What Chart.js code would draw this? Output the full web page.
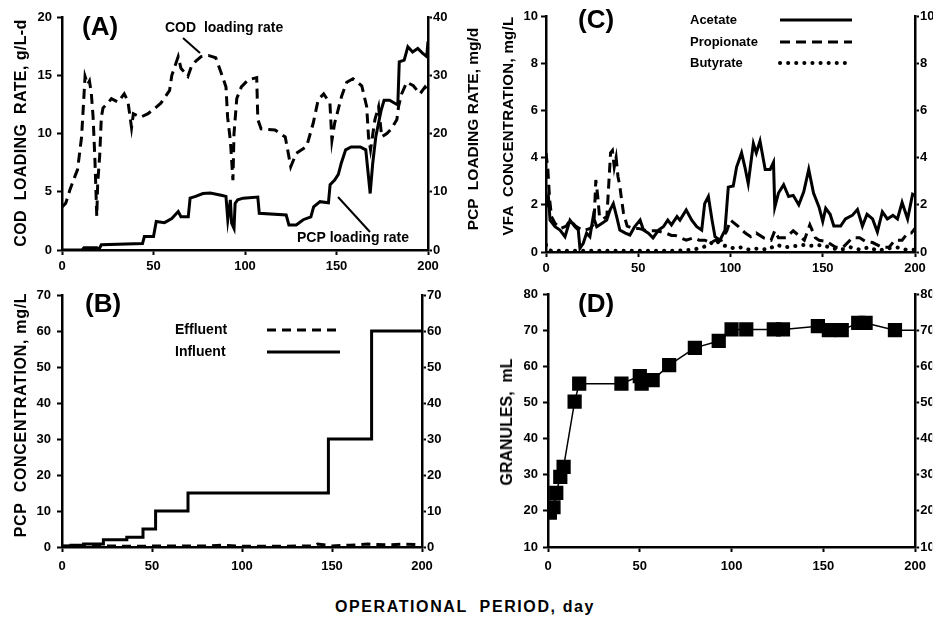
<!DOCTYPE html>
<html>
<head>
<meta charset="utf-8">
<script src="https://cdn.jsdelivr.net/npm/chart.js"></script>
<style>
  body { margin: 0; background: #fff; width: 933px; height: 621px; overflow: hidden; position: relative;
         font-family: "Liberation Sans", Arial, sans-serif; }
  canvas { position: absolute; }
  .t { position: absolute; font-weight: bold; white-space: pre; color: #000; line-height: 1; }
  .v { transform: translate(-50%, -50%) rotate(-90deg); }
  .h { transform: translate(-50%, -50%); }
</style>
</head>
<body>
<canvas id="chartA" width="466" height="280" style="left:0;top:0"></canvas>
<canvas id="chartC" width="467" height="280" style="left:466px;top:0"></canvas>
<canvas id="chartB" width="466" height="300" style="left:0;top:280px"></canvas>
<canvas id="chartD" width="467" height="300" style="left:466px;top:280px"></canvas>

<div class="t v" style="left:21px;top:133px;font-size:16px;letter-spacing:0.4px">COD  LOADING  RATE, g/L-d</div>
<div class="t v" style="left:473px;top:129px;font-size:15.5px">PCP  LOADING RATE, mg/d</div>
<div class="t v" style="left:507px;top:126px;font-size:15px;letter-spacing:0.3px">VFA  CONCENTRATION, mg/L</div>
<div class="t v" style="left:21px;top:415px;font-size:16px;letter-spacing:0.7px">PCP  CONCENTRATION, mg/L</div>
<div class="t v" style="left:507px;top:422px;font-size:16px">GRANULES,  mL</div>
<div class="t h" style="left:465px;top:607px;font-size:16px;letter-spacing:1.6px">OPERATIONAL  PERIOD, day</div>

<script>
// panel A: COD loading rate (g/L-d) and PCP loading rate (mg/d)
const codDays = [0, 2, 4.4, 7, 8.5, 10.7, 12.6, 14, 15, 16, 17, 18, 19, 19.5, 20.6, 21.5, 22.4, 25, 27, 30.6,
  34, 36, 38, 39, 43, 47, 51, 54, 58.8, 60, 63.5, 65, 68.8, 70.6, 73, 76, 80, 84, 87, 89.6,
  90.5, 92, 93.4, 94, 95.5, 98, 101.7, 106.4, 107, 108.8, 116.4, 122, 124, 125, 128, 133.7, 137.3, 140, 143, 146.4,
  147.5, 149, 152.8, 155.6, 159, 163.8, 166.5, 167.5, 168.6, 171, 173, 174.7, 177.5, 180, 183, 183.9, 185.6, 188.4, 192, 195.6,
  198.4, 200];
const codRate = [3.7, 4.0, 5.2, 6.3, 6.9, 9.7, 14.9, 14.2, 14.5, 13.5, 11.4, 7.7, 2.9, 5.7, 8.1, 11.4, 12.2, 12.6, 13, 12.7,
  13.4, 12.8, 10.5, 11.7, 11.4, 11.7, 12.2, 12.6, 13.7, 15, 16.6, 15.6, 14.9, 15.7, 16.2, 16.6, 16.7, 16.5, 15.2, 14,
  11.4, 9.4, 6.0, 10, 13, 14, 14.6, 14.8, 11.2, 10.4, 10.3, 9.7, 8.0, 7.15, 8.3, 8.9, 10.9, 12.9, 13.4, 12.6,
  9.4, 10.9, 13.2, 14.4, 14.7, 14.1, 12.3, 9.7, 8.6, 11.2, 12.3, 9.7, 10, 10.4, 11.2, 12.3, 13.4, 14.4, 14.1, 13.4,
  14, 13.7];
const pcpDays = [0, 11, 12, 19, 20, 21.5, 44, 45, 50, 51.5, 56, 60, 63.5, 65, 69, 70, 73, 77, 81, 87,
  89.6, 90.6, 92, 92.7, 94, 94.6, 96, 99, 107, 107.8, 122.5, 124, 128, 131.8, 136, 137.5, 141, 145.6, 146.5, 149,
  151, 152.6, 155, 158, 163, 166, 168.4, 169.8, 171.5, 174.4, 176, 179, 183.5, 184.3, 187, 189, 191.6, 194.4, 197, 199.3,
  200];
const pcpRate = [0, 0, 0.4, 0.4, 0, 0.9, 1.1, 2.3, 2.3, 4.9, 4.7, 5.4, 6.6, 5.7, 5.7, 8.9, 9.2, 9.7, 9.8, 9.4,
  9.2, 5.2, 8.6, 4.6, 3.7, 8.0, 8.6, 8.9, 9.1, 6.3, 6.0, 4.3, 4.3, 5.2, 5.7, 7.4, 8.3, 8.1, 11.2, 12.0,
  13.0, 14.9, 17.2, 17.7, 17.7, 17.2, 9.7, 14.9, 19.5, 24, 25.7, 25.7, 24.9, 32.3, 32.6, 34.9, 34, 34.6, 33.8, 33.2,
  35.8];

// panel B: PCP concentration (mg/L)
const infDays = [0, 5, 12, 23, 36, 45, 52, 70, 148, 172, 200];
const influent = [0.3, 0.5, 0.8, 2, 2.7, 5, 10, 15, 30, 60, 60];
const effDays = [0, 20, 40, 60, 80, 90, 100, 120, 140, 142, 150, 160, 170, 180, 190, 200];
const effluent = [0.2, 0.3, 0.2, 0.3, 0.3, 0.5, 0.2, 0.2, 0.3, 0.8, 0.3, 0.5, 0.8, 0.6, 0.8, 0.6];

// panel C: VFA concentration (mg/L)
const acetateDays = [0, 1.3, 2.2, 4.9, 7.6, 10.3, 13, 15.7, 17.5, 18.4, 20.2, 22, 23.8, 25.6, 27.5, 30, 32.9, 34.7, 36.5, 38.3,
  40, 43, 45.5, 48, 51, 52.8, 55.5, 58, 61, 63.6, 66, 68, 71, 72.6, 76, 79, 81.7, 84.4, 86, 88,
  90, 91.6, 94.3, 97, 98.8, 101.5, 103.3, 106, 107.8, 109.6, 112.4, 114, 116, 118.8, 121.5, 123.3, 124, 126, 128.8, 131.5,
  134, 137, 139.7, 142.4, 145, 148, 150, 151.6, 154, 156, 159.7, 162.3, 166, 168.8, 171.5, 174, 177, 179.6, 182.3, 185,
  188, 190.5, 193, 196, 198.7, 200];
const acetate = [1.9, 2.35, 1.35, 1.07, 0.93, 0.65, 1.35, 1.07, 0.93, 0.16, 0.37, 0.8, 0.65, 1.5, 1.07, 1.2, 1.35, 1.78, 2.05, 1.5,
  0.93, 0.8, 0.72, 1.07, 1.35, 0.93, 0.8, 0.6, 0.93, 1.07, 1.35, 1.15, 1.5, 1.35, 1.78, 1.35, 1.07, 0.93, 2.05, 2.35,
  1.35, 0.65, 0.5, 0.93, 2.75, 2.8, 3.6, 4.2, 3.6, 2.9, 4.6, 4.2, 4.7, 3.5, 3.5, 3.8, 1.9, 2.5, 2.85, 2.35,
  2.4, 2.0, 2.55, 3.5, 2.5, 1.9, 1.3, 1.85, 1.6, 1.1, 1.1, 1.4, 1.55, 1.8, 1.1, 1.6, 1.4, 0.85, 1.7, 1.4,
  1.55, 1.4, 2.1, 1.4, 2.45, 2.4];
const propDays = [0, 1, 2, 3, 5, 8, 11, 13, 16, 20, 24, 26, 27, 28, 29, 31, 33, 35, 36, 37,
  38, 39, 40, 41, 42, 44, 47, 50, 55, 60, 65, 68, 70, 73, 76, 80, 83, 86, 89, 92,
  95, 98, 100, 104, 108, 111, 114, 118, 122, 124, 126, 130, 134, 137, 140, 143, 146, 148, 152, 157,
  161, 166, 170, 173, 177, 182, 186, 189, 193, 196, 198, 200];
const propionate = [4.2, 3.5, 2.2, 1.5, 1.2, 1.0, 1.1, 1.35, 1.1, 0.9, 1.0, 1.2, 3.05, 2.4, 1.5, 1.4, 1.5, 4.2, 4.3, 3.6,
  4.0, 3.2, 2.8, 2.2, 1.65, 1.1, 1.0, 1.0, 0.9, 0.9, 0.8, 0.7, 0.7, 0.6, 0.5, 0.6, 0.5, 0.5, 0.4, 0.5,
  0.5, 0.9, 1.35, 1.1, 0.8, 0.65, 0.8, 0.6, 0.5, 0.9, 0.6, 0.6, 0.9, 0.7, 0.5, 1.15, 0.6, 0.5, 0.45, 0.2,
  0.2, 0.6, 0.6, 0.45, 0.4, 0.2, 0.2, 0.5, 0.5, 0.8, 0.8, 1.0];
const butDays = [0, 1, 3, 10, 20, 30, 40, 50, 60, 70, 80, 85, 88, 92, 95, 98, 102, 106, 110, 115,
  120, 125, 130, 135, 140, 145, 150, 155, 160, 165, 170, 175, 180, 185, 190, 195, 200];
const butyrate = [0.3, 0.1, 0.05, 0.05, 0.05, 0.05, 0.05, 0.05, 0.05, 0.05, 0.1, 0.2, 0.3, 0.5, 0.3, 0.25, 0.15, 0.2, 0.1, 0.15,
  0.1, 0.3, 0.2, 0.25, 0.3, 0.25, 0.3, 0.15, 0.1, 0.2, 0.1, 0.2, 0.05, 0.15, 0.2, 0.1, 0.1];

// panel D: granules (mL)
const granDays = [1, 3, 4.5, 6.7, 8.5, 14.5, 17, 40, 50, 51, 57, 66, 80, 93, 100, 108, 123, 128, 147, 153, 160, 169, 173, 189, 200];
const granules = [19.5, 21, 25, 29.4, 32.2, 50.2, 55.2, 55.2, 57.3, 55.2, 56.2, 60.3, 65.1, 67, 70.2, 70.2, 70.2, 70.2, 71.1, 70, 70, 72, 72, 70, 70];

const dayTicks = { min: 0, max: 200, step: 50 };
const FONT = '"Liberation Sans", Arial, sans-serif';

Chart.defaults.font.family = FONT;
Chart.defaults.font.size = 13;
Chart.defaults.font.weight = 'bold';
Chart.defaults.color = '#000';

const pts = (xs, ys) => xs.map((x, i) => ({ x: x, y: ys[i] }));

// draws panel letters, annotations and the hand-placed legends
const decor = {
  id: 'decor',
  afterDatasetsDraw(chart, args, opts) {
    const ctx = chart.ctx;
    ctx.save();
    ctx.fillStyle = '#000';
    ctx.strokeStyle = '#000';
    ctx.textBaseline = 'middle';
    (opts.texts || []).forEach(t => {
      ctx.font = t.font;
      ctx.textAlign = 'left';
      ctx.fillText(t.text, t.x, t.y);
    });
    (opts.lines || []).forEach(l => {
      ctx.lineWidth = 2;
      ctx.setLineDash([]);
      ctx.beginPath();
      ctx.moveTo(l[0], l[1]);
      ctx.lineTo(l[2], l[3]);
      ctx.stroke();
    });
    (opts.keys || []).forEach(k => {
      const ds = chart.data.datasets[k.ds];
      ctx.lineWidth = ds.borderWidth;
      ctx.lineCap = ds.borderCapStyle || 'butt';
      ctx.setLineDash(ds.borderDash || []);
      ctx.beginPath();
      ctx.moveTo(k.x1, k.y);
      ctx.lineTo(k.x2, k.y);
      ctx.stroke();
      ctx.setLineDash([]);
      ctx.font = k.font;
      ctx.textAlign = 'left';
      ctx.fillText(ds.label, k.tx, k.y);
    });
    ctx.restore();
  }
};

function xAxis(h, pad) {
  return {
    type: 'linear', min: dayTicks.min, max: dayTicks.max,
    ticks: { stepSize: dayTicks.step, padding: pad, maxRotation: 0 },
    grid: { drawOnChartArea: false, color: '#000', tickLength: 5, tickWidth: 2 },
    border: { color: '#000', width: 2.5 },
    afterFit: s => { s.height = h; }
  };
}

function yAxis(pos, min, max, step, w, pad) {
  return {
    type: 'linear', position: pos, min: min, max: max,
    ticks: { stepSize: step, padding: pad },
    grid: { drawOnChartArea: false, color: '#000', tickLength: pos === 'left' ? 5 : 4, tickWidth: 2 },
    border: { color: '#000', width: 2.5 },
    afterFit: s => { s.width = w; }
  };
}

function lineSet(label, data, opts) {
  return Object.assign({
    label: label, data: data, borderColor: '#000', backgroundColor: '#000',
    borderWidth: 3, pointRadius: 0, tension: 0, fill: false
  }, opts || {});
}

function baseOptions(top, scales, decorOpts) {
  return {
    responsive: false, animation: false, devicePixelRatio: 1, events: [],
    layout: { padding: { top: top, left: 0, right: 0, bottom: 0 } },
    scales: scales,
    plugins: { legend: { display: false }, tooltip: { enabled: false }, decor: decorOpts }
  };
}

const bigFont = 'bold 26px ' + FONT;
const noteFont = 'bold 14px ' + FONT;
const keyFont = 'bold 13px ' + FONT;

// (A)
new Chart(document.getElementById('chartA'), {
  type: 'line',
  data: {
    datasets: [
      lineSet('COD loading rate', pts(codDays, codRate), { borderDash: [10, 6], yAxisID: 'y' }),
      lineSet('PCP loading rate', pts(pcpDays, pcpRate), { yAxisID: 'y2' })
    ]
  },
  options: baseOptions(17, {
    x: xAxis(30, 4),
    y: yAxis('left', 0, 20, 5, 62, 5),
    y2: yAxis('right', 0, 40, 10, 38, 1)
  }, {
    texts: [
      { text: '(A)', x: 82, y: 28, font: bigFont },
      { text: 'COD  loading rate', x: 165, y: 28, font: noteFont },
      { text: 'PCP loading rate', x: 297, y: 238, font: noteFont }
    ],
    lines: [[183, 38, 200, 53], [338, 197, 370, 232]]
  }),
  plugins: [decor]
});

// (C)
new Chart(document.getElementById('chartC'), {
  type: 'line',
  data: {
    datasets: [
      lineSet('Acetate', pts(acetateDays, acetate)),
      lineSet('Propionate', pts(propDays, propionate), { borderDash: [10, 6] }),
      lineSet('Butyrate', pts(butDays, butyrate), { borderDash: [0.1, 8], borderCapStyle: 'round', borderWidth: 4 })
    ]
  },
  options: baseOptions(16, {
    x: xAxis(28, 4),
    y: yAxis('left', 0, 10, 2, 80, 3),
    y2: yAxis('right', 0, 10, 2, 18, 1)
  }, {
    texts: [{ text: '(C)', x: 112, y: 21, font: bigFont }],
    keys: [
      { ds: 0, tx: 224, x1: 314, x2: 386, y: 20, font: keyFont },
      { ds: 1, tx: 224, x1: 314, x2: 386, y: 42, font: keyFont },
      { ds: 2, tx: 224, x1: 314, x2: 386, y: 63, font: keyFont }
    ]
  }),
  plugins: [decor]
});

// (B)
new Chart(document.getElementById('chartB'), {
  type: 'line',
  data: {
    datasets: [
      lineSet('Influent', pts(infDays, influent), { stepped: 'before' }),
      lineSet('Effluent', pts(effDays, effluent), { borderDash: [9, 6] })
    ]
  },
  options: baseOptions(15, {
    x: xAxis(33, 7),
    y: yAxis('left', 0, 70, 10, 62, 6),
    y2: yAxis('right', 0, 70, 10, 44, 1)
  }, {
    texts: [{ text: '(B)', x: 85, y: 25, font: bigFont }],
    keys: [
      { ds: 1, tx: 175, x1: 267, x2: 340, y: 50, font: noteFont },
      { ds: 0, tx: 175, x1: 267, x2: 340, y: 72, font: noteFont }
    ]
  }),
  plugins: [decor]
});

// (D)
new Chart(document.getElementById('chartD'), {
  type: 'line',
  data: {
    datasets: [
      lineSet('Granules', pts(granDays, granules), {
        borderWidth: 1.5, pointStyle: 'rect', pointBackgroundColor: '#000', pointBorderColor: '#000',
        pointRadius: granDays.map((d, i) => i === granDays.length - 1 ? 0 : 9)
      })
    ]
  },
  options: baseOptions(14, {
    x: xAxis(33, 7),
    y: yAxis('left', 10, 80, 10, 82, 5),
    y2: yAxis('right', 10, 80, 10, 17, 1)
  }, {
    texts: [{ text: '(D)', x: 112, y: 25, font: bigFont }]
  }),
  plugins: [decor]
});
</script>
</body>
</html>
